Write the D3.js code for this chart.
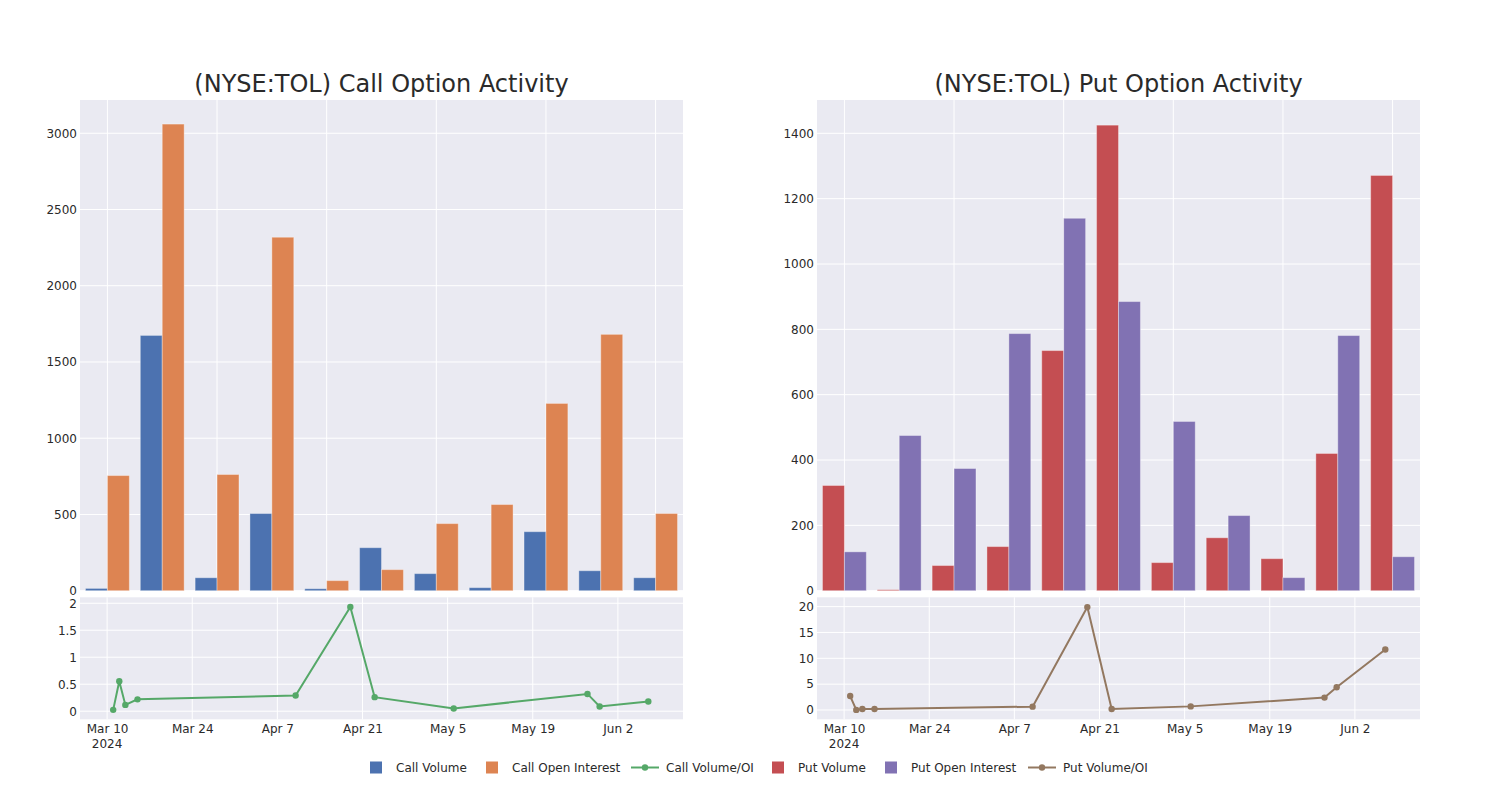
<!DOCTYPE html>
<html>
<head>
<meta charset="utf-8">
<script src="https://cdn.jsdelivr.net/npm/d3@7"></script>
<style>
  html, body { margin: 0; padding: 0; background: #ffffff; }
  svg { display: block; font-family: "DejaVu Sans", sans-serif; }
</style>
</head>
<body>
<svg id="chart" width="1500" height="800"></svg>
<script>
// ---------- data ----------
const dates = ["2024-03-11","2024-03-12","2024-03-13","2024-03-15","2024-04-10","2024-04-19","2024-04-23","2024-05-06","2024-05-28","2024-05-30","2024-06-07"];
const callVolume = [15, 1674, 85, 506, 13, 282, 112, 20, 387, 131, 85];
const callOpenInterest = [755, 3060, 762, 2318, 66, 138, 440, 565, 1228, 1681, 506];
const callRatio = [0.025, 0.556, 0.117, 0.22, 0.29, 1.93, 0.26, 0.05, 0.32, 0.086, 0.18];
const putVolume = [322, 3, 77, 135, 735, 1425, 86, 162, 98, 420, 1271];
const putOpenInterest = [119, 475, 374, 787, 1140, 885, 518, 230, 40, 781, 104];
const putRatio = [2.7, 0.02, 0.2, 0.2, 0.65, 19.9, 0.2, 0.7, 2.4, 4.4, 11.7];

const callBarTicks = [0, 500, 1000, 1500, 2000, 2500, 3000];
const putBarTicks = [0, 200, 400, 600, 800, 1000, 1200, 1400];
const callRatioTicks = [0, 0.5, 1, 1.5, 2];
const putRatioTicks = [0, 5, 10, 15, 20];
const dateTicks = ["2024-03-10","2024-03-24","2024-04-07","2024-04-21","2024-05-05","2024-05-19","2024-06-02"];

const colors = {
  callVolume: "#4C72B0", callOI: "#DD8452", callRatio: "#55A868",
  putVolume: "#C44E52", putOI: "#8172B3", putRatio: "#937860"
};

const parse = d3.timeParse("%Y-%m-%d");
const svg = d3.select("#chart");
const BG = "#EAEAF2";
const TXT = "#2a2a2a";

function fmtTick(v) { return d3.format("~g")(v); }

function panel(opts) {
  const { x0, x1, title, vol, oi, ratio, barMax, barTicks, ratioDomain, ratioTicks, c1, c2, c3 } = opts;
  const barTop = 100, barBottom = 590.7, lineTop = 597.3, lineBottom = 719.3;
  const g = svg.append("g");

  // ---- bar subplot ----
  g.append("rect").attr("x", x0).attr("y", barTop).attr("width", x1 - x0).attr("height", barBottom - barTop).attr("fill", BG);
  const xb = d3.scaleBand().domain(dates).range([x0, x1]).paddingInner(0.2).paddingOuter(0.1);
  const yb = d3.scaleLinear().domain([0, barMax]).range([barBottom, barTop]);
  const inner = d3.scaleBand().domain([0, 1]).range([0, xb.bandwidth()]);

  g.append("g").selectAll("line").data(barTicks).join("line")
    .attr("x1", x0).attr("x2", x1).attr("y1", d => yb(d)).attr("y2", d => yb(d))
    .attr("stroke", "#fff").attr("stroke-width", 1);
  g.append("g").selectAll("line").data(dates.filter((d, i) => i % 2 === 0)).join("line")
    .attr("x1", d => xb(d) + xb.bandwidth() / 2).attr("x2", d => xb(d) + xb.bandwidth() / 2)
    .attr("y1", barTop).attr("y2", barBottom).attr("stroke", "#fff").attr("stroke-width", 1);

  const series = [{ v: vol, c: c1, k: 0 }, { v: oi, c: c2, k: 1 }];
  series.forEach(s => {
    g.append("g").selectAll("rect").data(dates).join("rect")
      .attr("x", (d, i) => xb(d) + inner(s.k))
      .attr("width", inner.bandwidth())
      .attr("y", (d, i) => yb(s.v[i]))
      .attr("height", (d, i) => barBottom - yb(s.v[i]))
      .attr("fill", s.c)
      .attr("stroke", "rgba(255,255,255,0.35)").attr("stroke-width", 1);
  });

  const yAxisB = d3.axisLeft(yb).tickValues(barTicks).tickSize(0).tickPadding(3).tickFormat(fmtTick);
  const ga = g.append("g").attr("transform", `translate(${x0},0)`).call(yAxisB);
  ga.select(".domain").remove();
  ga.selectAll("text").attr("font-size", 12).attr("fill", TXT).attr("font-family", "DejaVu Sans, sans-serif");

  g.append("text").attr("x", (x0 + x1) / 2).attr("y", 92).attr("text-anchor", "middle")
    .attr("font-size", 24).attr("fill", TXT).text(title);

  // ---- line subplot ----
  g.append("rect").attr("x", x0).attr("y", lineTop).attr("width", x1 - x0).attr("height", lineBottom - lineTop).attr("fill", BG);
  const xt = d3.scaleTime().domain([new Date(2024, 2, 5, 13, 0), new Date(2024, 5, 12, 17, 0)]).range([x0, x1]);
  const yl = d3.scaleLinear().domain(ratioDomain).range([lineBottom, lineTop]);

  g.append("g").selectAll("line").data(ratioTicks).join("line")
    .attr("x1", x0).attr("x2", x1).attr("y1", d => yl(d)).attr("y2", d => yl(d))
    .attr("stroke", "#fff").attr("stroke-width", 1);
  g.append("g").selectAll("line").data(dateTicks).join("line")
    .attr("x1", d => xt(parse(d))).attr("x2", d => xt(parse(d)))
    .attr("y1", lineTop).attr("y2", lineBottom).attr("stroke", "#fff").attr("stroke-width", 1);

  const line = d3.line().x((d, i) => xt(parse(dates[i]))).y(d => yl(d));
  g.append("path").datum(ratio).attr("d", line).attr("fill", "none").attr("stroke", c3).attr("stroke-width", 2);
  g.append("g").selectAll("circle").data(ratio).join("circle")
    .attr("cx", (d, i) => xt(parse(dates[i]))).attr("cy", d => yl(d)).attr("r", 3.2).attr("fill", c3);

  const yAxisL = d3.axisLeft(yl).tickValues(ratioTicks).tickSize(0).tickPadding(3).tickFormat(fmtTick);
  const gl = g.append("g").attr("transform", `translate(${x0},0)`).call(yAxisL);
  gl.select(".domain").remove();
  gl.selectAll("text").attr("font-size", 12).attr("fill", TXT).attr("font-family", "DejaVu Sans, sans-serif");

  const fmtDate = d3.timeFormat("%b %-d");
  const xAxis = d3.axisBottom(xt).tickValues(dateTicks.map(parse)).tickSize(0).tickPadding(5).tickFormat(fmtDate);
  const gx = g.append("g").attr("transform", `translate(0,${lineBottom})`).call(xAxis);
  gx.select(".domain").remove();
  gx.selectAll("text").attr("font-size", 12).attr("fill", TXT).attr("font-family", "DejaVu Sans, sans-serif");
  g.append("text").attr("x", xt(parse(dateTicks[0]))).attr("y", 748).attr("text-anchor", "middle")
    .attr("font-size", 12).attr("fill", TXT).text("2024");
}

panel({
  x0: 80, x1: 683, title: "(NYSE:TOL) Call Option Activity",
  vol: callVolume, oi: callOpenInterest, ratio: callRatio,
  barMax: 3218, barTicks: callBarTicks, ratioDomain: [-0.15, 2.11], ratioTicks: callRatioTicks,
  c1: colors.callVolume, c2: colors.callOI, c3: colors.callRatio
});
panel({
  x0: 817, x1: 1420, title: "(NYSE:TOL) Put Option Activity",
  vol: putVolume, oi: putOpenInterest, ratio: putRatio,
  barMax: 1502, barTicks: putBarTicks, ratioDomain: [-1.8, 21.8], ratioTicks: putRatioTicks,
  c1: colors.putVolume, c2: colors.putOI, c3: colors.putRatio
});

// ---- legend ----
const legendItems = [
  { label: "Call Volume", type: "bar", color: colors.callVolume, x: 370 },
  { label: "Call Open Interest", type: "bar", color: colors.callOI, x: 486 },
  { label: "Call Volume/OI", type: "line", color: colors.callRatio, x: 631 },
  { label: "Put Volume", type: "bar", color: colors.putVolume, x: 772 },
  { label: "Put Open Interest", type: "bar", color: colors.putOI, x: 885 },
  { label: "Put Volume/OI", type: "line", color: colors.putRatio, x: 1028 }
];
const lg = svg.append("g");
legendItems.forEach(it => {
  const cy = 767.5;
  if (it.type === "bar") {
    lg.append("rect").attr("x", it.x).attr("y", cy - 6).attr("width", 12).attr("height", 12).attr("fill", it.color);
    lg.append("text").attr("x", it.x + 26).attr("y", cy + 4.5).attr("font-size", 12).attr("fill", TXT).text(it.label);
  } else {
    lg.append("line").attr("x1", it.x).attr("x2", it.x + 28).attr("y1", cy).attr("y2", cy).attr("stroke", it.color).attr("stroke-width", 2);
    lg.append("circle").attr("cx", it.x + 14).attr("cy", cy).attr("r", 3.2).attr("fill", it.color);
    lg.append("text").attr("x", it.x + 35).attr("y", cy + 4.5).attr("font-size", 12).attr("fill", TXT).text(it.label);
  }
});
</script>
</body>
</html>
